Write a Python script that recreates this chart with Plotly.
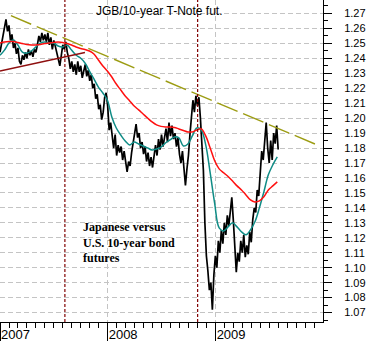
import pandas as pd
import plotly.graph_objects as go

# JGB / 10-year T-Note futures ratio, sampled roughly every five days
price_start, price_end = "2007-01-01", "2009-08-01"
price = [
    1.244, 1.250, 1.256, 1.262, 1.266, 1.258, 1.262, 1.252, 1.256, 1.247, 1.250,
    1.243, 1.247, 1.238, 1.236, 1.242, 1.239, 1.244, 1.240, 1.246, 1.242,
    1.245, 1.241, 1.246, 1.244, 1.249, 1.255, 1.251, 1.257, 1.252, 1.256,
    1.251, 1.257, 1.249, 1.254, 1.246, 1.252, 1.248, 1.243, 1.238, 1.235,
    1.242, 1.249, 1.246, 1.251, 1.244, 1.240, 1.233, 1.238, 1.231, 1.236,
    1.229, 1.238, 1.231, 1.235, 1.227, 1.233, 1.236, 1.228, 1.232, 1.225,
    1.229, 1.220, 1.223, 1.213, 1.216, 1.206, 1.209, 1.199, 1.204, 1.214,
    1.217, 1.208, 1.192, 1.197, 1.186, 1.180, 1.189, 1.175, 1.182, 1.177,
    1.181, 1.172, 1.178, 1.169, 1.164, 1.171, 1.168, 1.177, 1.184, 1.188,
    1.196, 1.187, 1.190, 1.180, 1.184, 1.176, 1.181, 1.171, 1.177, 1.168,
    1.174, 1.167, 1.176, 1.182, 1.175, 1.186, 1.179, 1.189, 1.181, 1.187,
    1.193, 1.184, 1.197, 1.188, 1.195, 1.186, 1.190, 1.181, 1.187, 1.176,
    1.170, 1.178, 1.163, 1.155, 1.166, 1.175, 1.189, 1.200, 1.212, 1.204,
    1.215, 1.208, 1.214, 1.200, 1.185, 1.165, 1.130, 1.108, 1.098, 1.085, 1.090, 1.072,
    1.095, 1.108, 1.100, 1.118, 1.110, 1.125, 1.116, 1.130, 1.122, 1.135,
    1.128, 1.140, 1.147, 1.132, 1.118, 1.097, 1.110, 1.104,
    1.118, 1.110, 1.122, 1.107, 1.115, 1.109, 1.124, 1.117, 1.132, 1.140,
    1.137, 1.152, 1.148, 1.165, 1.178, 1.172, 1.188, 1.197, 1.180, 1.170,
    1.185, 1.172, 1.190, 1.183, 1.195, 1.179,
]

# moving averages, sampled every ~15 days
ma_start, ma_end = "2007-01-01", "2009-07-29"
ma_short = [
    1.2420, 1.2455, 1.2502, 1.2522, 1.2489, 1.2442, 1.2435, 1.2449, 1.2476, 1.2502,
    1.2509, 1.2502, 1.2502, 1.2482, 1.2476, 1.2489, 1.2455, 1.2422, 1.2402, 1.2369,
    1.2315, 1.2262, 1.2208, 1.2168, 1.2121, 1.2008, 1.1934, 1.1887, 1.1847, 1.1821,
    1.1841, 1.1827, 1.1814, 1.1801, 1.1787, 1.1794, 1.1807, 1.1834, 1.1854, 1.1874,
    1.1868, 1.1814, 1.1827, 1.1881, 1.1934, 1.1921, 1.1821, 1.1634, 1.1430, 1.1266,
    1.1246, 1.1273, 1.1300, 1.1273, 1.1240, 1.1220, 1.1253, 1.1307, 1.1400, 1.1507,
    1.1621, 1.1688, 1.1741,
]
ma_long = [
    1.2503, 1.2509, 1.2512, 1.2512, 1.2506, 1.2499, 1.2492, 1.2489, 1.2489, 1.2492,
    1.2499, 1.2502, 1.2506, 1.2509, 1.2506, 1.2499, 1.2489, 1.2476, 1.2466, 1.2459,
    1.2449, 1.2429, 1.2389, 1.2349, 1.2315, 1.2275, 1.2228, 1.2188, 1.2148, 1.2115,
    1.2081, 1.2055, 1.2028, 1.2001, 1.1975, 1.1955, 1.1945, 1.1941, 1.1941, 1.1938,
    1.1928, 1.1918, 1.1908, 1.1908, 1.1921, 1.1928, 1.1881, 1.1800, 1.1715, 1.1661,
    1.1635, 1.1610, 1.1580, 1.1547, 1.1520, 1.1487, 1.1453, 1.1440, 1.1447, 1.1474,
    1.1520, 1.1547, 1.1574,
]

# hand-drawn trend lines (date, value end points)
resistance_dates = ["2007-02-07", "2009-12-04"]
resistance_values = [1.2685, 1.1827]
support_dates = ["2007-01-01", "2007-10-16"]
support_values = [1.2315, 1.2439]

# marked events
event_dates = ["2007-08-09", "2008-11-01"]

title_text = "JGB/10-year T-Note fut."
note_text = "Japanese versus<br>U.S. 10-year bond<br>futures"

price_dates = pd.date_range(price_start, price_end, periods=len(price))
ma_dates = pd.date_range(ma_start, ma_end, periods=len(ma_short))

fig = go.Figure()
fig.add_trace(go.Scatter(x=price_dates, y=price, mode="lines",
                         line=dict(color="black", width=1.7)))
fig.add_trace(go.Scatter(x=ma_dates, y=ma_short, mode="lines",
                         line=dict(color="#0f8c86", width=1.5, shape="spline")))
fig.add_trace(go.Scatter(x=ma_dates, y=ma_long, mode="lines",
                         line=dict(color="#ff1010", width=1.5, shape="spline")))
fig.add_trace(go.Scatter(x=resistance_dates, y=resistance_values, mode="lines",
                         line=dict(color="#9c9c12", width=1.4, dash="22px,6px")))
fig.add_trace(go.Scatter(x=support_dates, y=support_values, mode="lines",
                         line=dict(color="#8e0f0f", width=1.4)))

for d in event_dates:
    fig.add_shape(type="line", xref="x", yref="paper", x0=d, x1=d, y0=0, y1=1,
                  line=dict(color="#800000", width=1.2, dash="3px,2px"))

fig.add_annotation(text=title_text, xref="paper", yref="paper", x=0.495, y=0.966,
                   xanchor="center", yanchor="middle", showarrow=False,
                   font=dict(family="Liberation Sans, Arial", size=12, color="black"))
fig.add_annotation(text=note_text, xref="paper", yref="paper", x=0.252, y=0.322,
                   xanchor="left", yanchor="top", align="left", showarrow=False,
                   font=dict(family="Liberation Serif, Times New Roman", size=12,
                             color="black", weight="bold"))

grid = dict(showgrid=True, gridcolor="#c4c4c4", gridwidth=1, griddash="5px,3px")

fig.update_layout(
    width=371, height=341,
    margin=dict(l=0, r=48, t=0, b=19),
    paper_bgcolor="white", plot_bgcolor="white",
    showlegend=False,
    font=dict(family="Liberation Sans, Arial", size=11, color="black"),
    xaxis=dict(
        type="date", range=["2007-01-01", "2009-12-31"],
        tickmode="linear", tick0="2007-01-01", dtick="M12", tickformat="%Y",
        ticks="outside", ticklen=19, tickcolor="black", tickwidth=1,
        ticklabelposition="outside right", ticklabelstandoff=0,
        tickfont=dict(size=13),
        showline=True, linecolor="black", linewidth=1, zeroline=False,
        minor=dict(dtick="M1", tick0="2007-01-01", ticks="outside", ticklen=5,
                   tickcolor="black", showgrid=False),
        **grid,
    ),
    yaxis=dict(
        side="right", range=[1.0637, 1.279],
        tickmode="linear", tick0=1.07, dtick=0.01, tickformat=".2f",
        ticks="outside", ticklen=8, tickcolor="black", tickwidth=1,
        ticklabelstandoff=10,
        showline=True, linecolor="black", linewidth=1, zeroline=False,
        minor=dict(dtick=0.005, tick0=1.07, ticks="outside", ticklen=4,
                   tickcolor="black", showgrid=False),
        **grid,
    ),
)

fig.write_html("out.html")
